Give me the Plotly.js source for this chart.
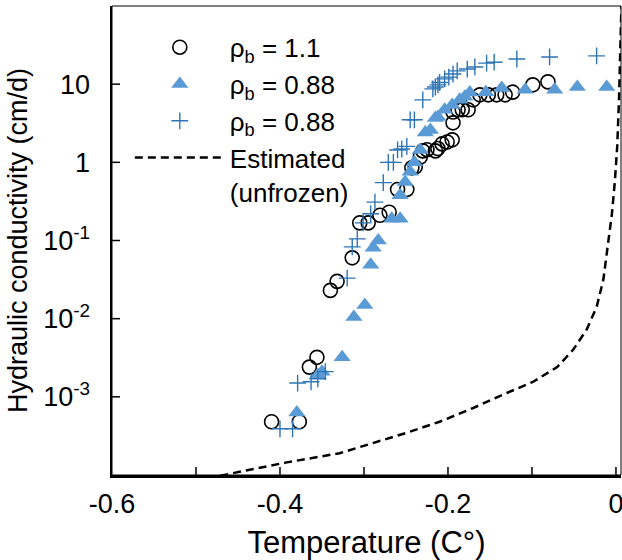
<!DOCTYPE html>
<html><head><meta charset="utf-8">
<script src="https://cdn.plot.ly/plotly-3.0.1.min.js"></script>
<style>html,body{margin:0;padding:0;background:#fff}#chart{width:622px;height:560px}</style>
</head><body><div id="chart"></div>
<script>
// rho_b = 1.1 (open circles)
const circleT = [-0.410,-0.377,-0.365,-0.356,-0.340,-0.332,-0.314,-0.305,-0.295,-0.281,-0.270,-0.260,-0.249,-0.243,-0.239,-0.233,-0.230,-0.225,-0.215,-0.212,-0.207,-0.201,-0.195,-0.194,-0.194,-0.188,-0.183,-0.176,-0.170,-0.162,-0.152,-0.142,-0.132,-0.123,-0.099,-0.081];
const circleK = [4.8e-4,4.8e-4,2.4e-3,3.2e-3,0.023,0.030,0.060,0.168,0.168,0.21,0.23,0.45,0.45,0.85,0.87,1.17,1.4,1.45,1.4,1.5,1.72,1.82,1.94,3.2,4.4,4.7,4.7,4.7,6.3,7.3,7.3,7.3,7.3,7.9,9.8,10.7];
// rho_b = 0.88 (filled triangles)
const triT = [-0.380,-0.355,-0.350,-0.326,-0.312,-0.299,-0.292,-0.289,-0.283,-0.267,-0.257,-0.257,-0.251,-0.245,-0.240,-0.233,-0.227,-0.221,-0.215,-0.212,-0.204,-0.195,-0.186,-0.180,-0.174,-0.155,-0.136,-0.108,-0.073,-0.046,-0.011];
const triK = [6.3e-4,1.9e-3,2.1e-3,3.2e-3,0.0105,0.015,0.049,0.081,0.10,0.19,0.19,0.38,0.56,0.76,1.0,1.44,2.4,2.6,3.7,3.8,4.7,5.4,6.3,6.9,7.8,7.9,8.9,8.5,8.5,9.2,9.2];
// rho_b = 0.88 (plus)
const plusT = [-0.400,-0.385,-0.379,-0.363,-0.355,-0.346,-0.320,-0.314,-0.308,-0.301,-0.292,-0.287,-0.277,-0.271,-0.265,-0.260,-0.255,-0.249,-0.245,-0.240,-0.230,-0.218,-0.215,-0.212,-0.210,-0.204,-0.199,-0.194,-0.189,-0.177,-0.168,-0.154,-0.145,-0.118,-0.079,-0.023];
const plusK = [3.9e-4,3.9e-4,1.5e-3,1.56e-3,1.7e-3,2.1e-3,0.033,0.083,0.105,0.168,0.22,0.31,0.55,1.0,1.0,1.44,1.48,1.6,3.5,3.5,6.3,8.7,9.2,9.8,10.5,11.7,12.3,13.5,14.8,15.6,16.6,18.6,19.1,21,22.3,23];
// Estimated (unfrozen) curve
const estT = [-0.471,-0.436,-0.392,-0.329,-0.289,-0.249,-0.210,-0.170,-0.130,-0.099,-0.070,-0.051,-0.035,-0.023,-0.015,-0.0095,-0.0048,-0.0012,0.0015,0.0036,0.0060,0.0068];
const estK = [9.8e-5,1.17e-4,1.45e-4,1.9e-4,2.57e-4,3.47e-4,4.8e-4,7.2e-4,1.12e-3,1.55e-3,2.4e-3,4.0e-3,7.2e-3,0.0141,0.0316,0.083,0.22,0.59,1.6,6.3,72,130];

const xTickVals = [-0.6,-0.4,-0.2,0];
const xTickText = ['-0.6','-0.4','-0.2','0'];
const xTickMarkVals = [-0.5,-0.4,-0.3,-0.2,-0.1,0];
const yTickVals = [0.001,0.01,0.1,1,10];
const yTickText = ['10<sup>-3</sup>','10<sup>-2</sup>','10<sup>-1</sup>','1','10'];

const X_RANGE = [-0.6, 0.006];
const Y_RANGE = [-4, 2];
const FONT = 'Liberation Sans, Arial, sans-serif';
const traces = [
  {x: circleT, y: circleK, type:'scatter', mode:'markers', name:'ρ<sub>b</sub> = 1.1',
   marker:{symbol:'circle-open', size:14, color:'#000', line:{width:1.6, color:'#000'}}},
  {x: triT, y: triK, type:'scatter', mode:'markers', name:'ρ<sub>b</sub> = 0.88',
   marker:{symbol:'triangle-up', size:15, color:'#5B9BD5', line:{width:0}}},
  {x: plusT, y: plusK, type:'scatter', mode:'markers', name:'ρ<sub>b</sub> = 0.88',
   marker:{symbol:'cross-thin', size:12, color:'#2E75B6', line:{width:1.4, color:'#2E75B6'}}},
  {x: estT, y: estK, type:'scatter', mode:'lines', name:'Estimated<br>(unfrozen)',
   line:{color:'#000', width:2.5, dash:'8px,5px'}}
];

// tick marks (inside) drawn as pixel-sized shapes at the tick positions
const xFrac = v => (v - X_RANGE[0]) / (X_RANGE[1] - X_RANGE[0]);
const yFrac = v => (Math.log10(v) - Y_RANGE[0]) / (Y_RANGE[1] - Y_RANGE[0]);
const tickLine = {color:'#000', width:1.5};
const tickShapes = [
  ...xTickMarkVals.map(v => ({type:'line', layer:'above', xref:'paper', yref:'paper',
     ysizemode:'pixel', yanchor:0, x0:xFrac(v), x1:xFrac(v), y0:0, y1:8, line:tickLine})),
  ...yTickVals.map(v => ({type:'line', layer:'above', xref:'paper', yref:'paper',
     xsizemode:'pixel', xanchor:0, y0:yFrac(v), y1:yFrac(v), x0:0, x1:8, line:tickLine}))
];

const layout = {
  width:622, height:560,
  margin:{l:112, r:1, t:6, b:85},
  paper_bgcolor:'#fff', plot_bgcolor:'#fff',
  font:{family:FONT, size:27, color:'#000'},
  showlegend:true,
  legend:{x:0.035, y:0.962, xanchor:'left', yanchor:'top', bgcolor:'rgba(0,0,0,0)',
          font:{family:FONT, size:26, color:'#000'}, itemwidth:90, valign:'top', tracegroupgap:0},
  xaxis:{type:'linear', range:X_RANGE, tickmode:'array', tickvals:xTickVals, ticktext:xTickText,
         ticks:'', ticklabeloverflow:'allow',
         showline:true, linecolor:'#000', linewidth:2.5, showgrid:false, zeroline:false,
         tickfont:{family:FONT, size:27}, ticklabelstandoff:3,
         title:{text:'Temperature (C°)', font:{family:FONT, size:31}, standoff:16}},
  yaxis:{type:'log', range:Y_RANGE, tickmode:'array', tickvals:yTickVals, ticktext:yTickText,
         ticks:'',
         showline:true, linecolor:'#000', linewidth:2.5, showgrid:false, zeroline:false,
         tickfont:{family:FONT, size:27}, ticklabelstandoff:14,
         title:{text:'Hydraulic conductivity (cm/d)', font:{family:FONT, size:27}, standoff:8}},
  shapes:[{type:'rect', xref:'paper', yref:'paper', x0:0, x1:1, y0:0, y1:1, line:{color:'#000', width:1}, fillcolor:'rgba(0,0,0,0)', layer:'below'},
          ...tickShapes]
};
Plotly.newPlot('chart', traces, layout, {displayModeBar:false, staticPlot:true});
</script></body></html>
